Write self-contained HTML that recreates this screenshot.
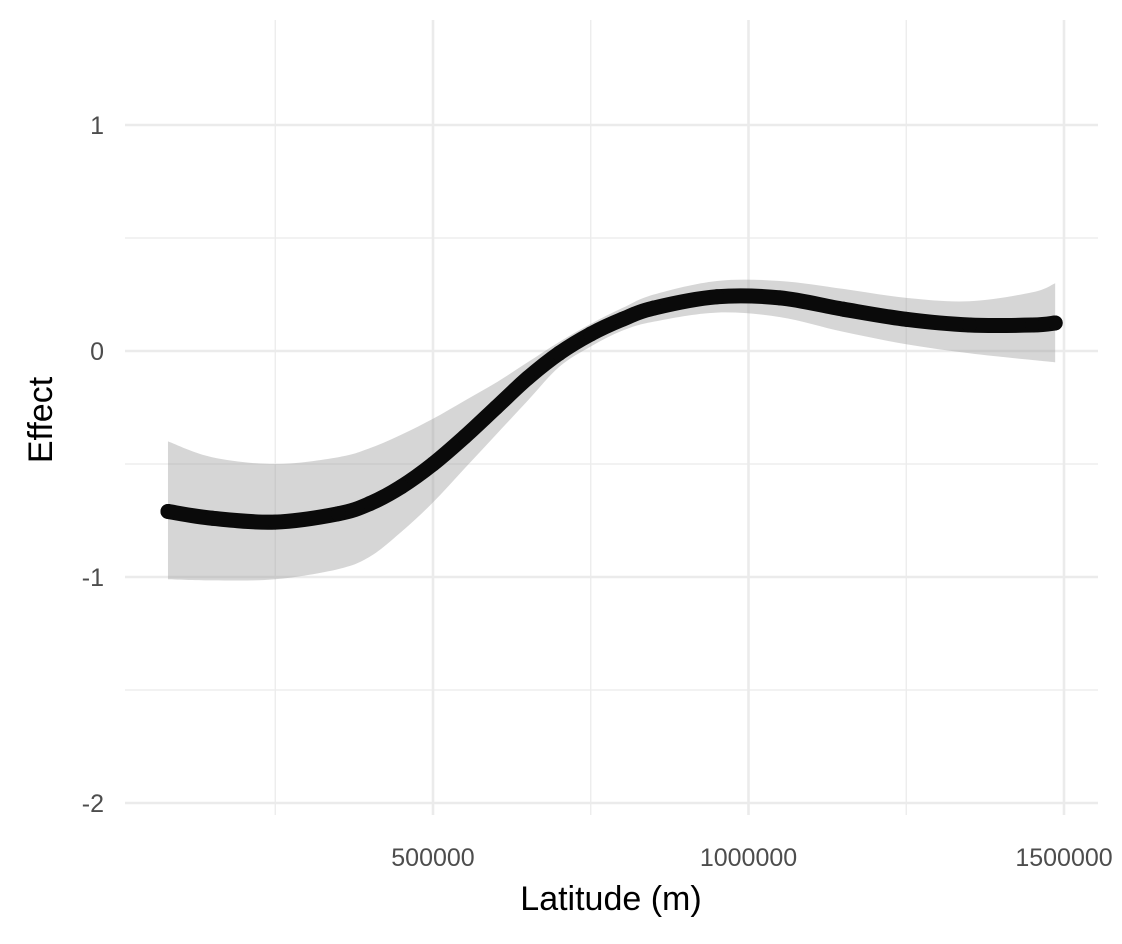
<!DOCTYPE html>
<html><head><meta charset="utf-8"><style>
html,body{margin:0;padding:0;background:#fff;}
svg{display:block;font-family:"Liberation Sans",sans-serif;}
</style></head><body>
<svg id="chart" width="1122" height="944" viewBox="0 0 1122 944">
<g id="grid"></g>
<g id="ribbon-g"></g>
<g id="line-g"></g>
<g id="axes"></g>
<text x="611" y="910" text-anchor="middle" font-size="34" fill="#000">Latitude (m)</text>
<text transform="translate(52,420) rotate(-90)" text-anchor="middle" font-size="34" fill="#000">Effect</text>
</svg>
<script>
const lat = [80000,150000,250000,350000,400000,450000,500000,550000,600000,650000,700000,750000,800000,850000,950000,1050000,1150000,1250000,1350000,1450000,1486000];
const effect = [-0.71,-0.74,-0.757,-0.72,-0.675,-0.60,-0.50,-0.38,-0.25,-0.12,-0.01,0.075,0.14,0.19,0.24,0.235,0.185,0.14,0.115,0.115,0.124];
const lower = [-1.01,-1.015,-1.01,-0.965,-0.91,-0.80,-0.67,-0.52,-0.37,-0.22,-0.07,0.02,0.09,0.13,0.17,0.15,0.085,0.03,-0.01,-0.04,-0.05];
const upper = [-0.40,-0.47,-0.50,-0.47,-0.43,-0.37,-0.30,-0.22,-0.14,-0.05,0.04,0.12,0.19,0.25,0.31,0.31,0.275,0.235,0.22,0.26,0.30];
const xMajor = [500000,1000000,1500000];
const xMinor = [250000,750000,1250000];
const yMajor = [1,0,-1,-2];
const yMinor = [0.5,-0.5,-1.5];
const xLabels = ["500000","1000000","1500000"];
const yLabels = ["1","0","-1","-2"];

const NS="http://www.w3.org/2000/svg";
const X = v => 433 + (v-500000)*315.5/500000;
const Y = v => 351 - v*226;
const L = 125, R = 1098, T = 20, B = 815;
function mk(tag, attrs, parent){const e=document.createElementNS(NS,tag);for(const k in attrs)e.setAttribute(k,attrs[k]);parent.appendChild(e);return e;}
const grid=document.getElementById('grid'), axes=document.getElementById('axes');
xMinor.forEach(v=>{const e=mk('line',{x1:X(v),x2:X(v),y1:T,y2:B,stroke:'#ebebeb','stroke-width':1.3},grid);

});
yMinor.forEach(v=>{const e=mk('line',{x1:L,x2:R,y1:Y(v),y2:Y(v),stroke:'#ebebeb','stroke-width':1.3},grid);

});
xMajor.forEach((v,i)=>{const e=mk('line',{x1:X(v),x2:X(v),y1:T,y2:B,stroke:'#ebebeb','stroke-width':2.6},grid);


const t=mk('text',{x:X(v),y:866,'text-anchor':'middle','font-size':25,fill:'#4d4d4d'},axes);t.textContent=xLabels[i];

});
yMajor.forEach((v,i)=>{const e=mk('line',{x1:L,x2:R,y1:Y(v),y2:Y(v),stroke:'#ebebeb','stroke-width':2.6},grid);


const t=mk('text',{x:104,y:Y(v)+9,'text-anchor':'end','font-size':25,fill:'#4d4d4d'},axes);t.textContent=yLabels[i];

});
function smooth(pts){let d='M'+pts[0][0]+','+pts[0][1];for(let i=0;i<pts.length-1;i++){const p0=pts[Math.max(i-1,0)],p1=pts[i],p2=pts[i+1],p3=pts[Math.min(i+2,pts.length-1)];
d+=' C'+(p1[0]+(p2[0]-p0[0])/6)+','+(p1[1]+(p2[1]-p0[1])/6)+' '+(p2[0]-(p3[0]-p1[0])/6)+','+(p2[1]-(p3[1]-p1[1])/6)+' '+p2[0]+','+p2[1];}return d;}
const up=lat.map((v,i)=>[X(v),Y(upper[i])]), lo=lat.map((v,i)=>[X(v),Y(lower[i])]).reverse();
const sl=smooth(lo);
let dr=smooth(up)+' L'+lo[0][0]+','+lo[0][1]+sl.slice(sl.indexOf(' '))+' Z';
const rib=mk('path',{d:dr,fill:'#999','fill-opacity':0.4},document.getElementById('ribbon-g'));


const lg=document.getElementById('line-g');
const pl=mk('path',{d:smooth(lat.map((v,i)=>[X(v),Y(effect[i])])),fill:'none',stroke:'#0a0a0a','stroke-width':15,'stroke-linecap':'round'},lg);


lat.forEach((v,i)=>{const c=mk('circle',{cx:X(v),cy:Y(effect[i]),r:7.5,fill:'#0a0a0a'},lg);

});
</script>
</body></html>
